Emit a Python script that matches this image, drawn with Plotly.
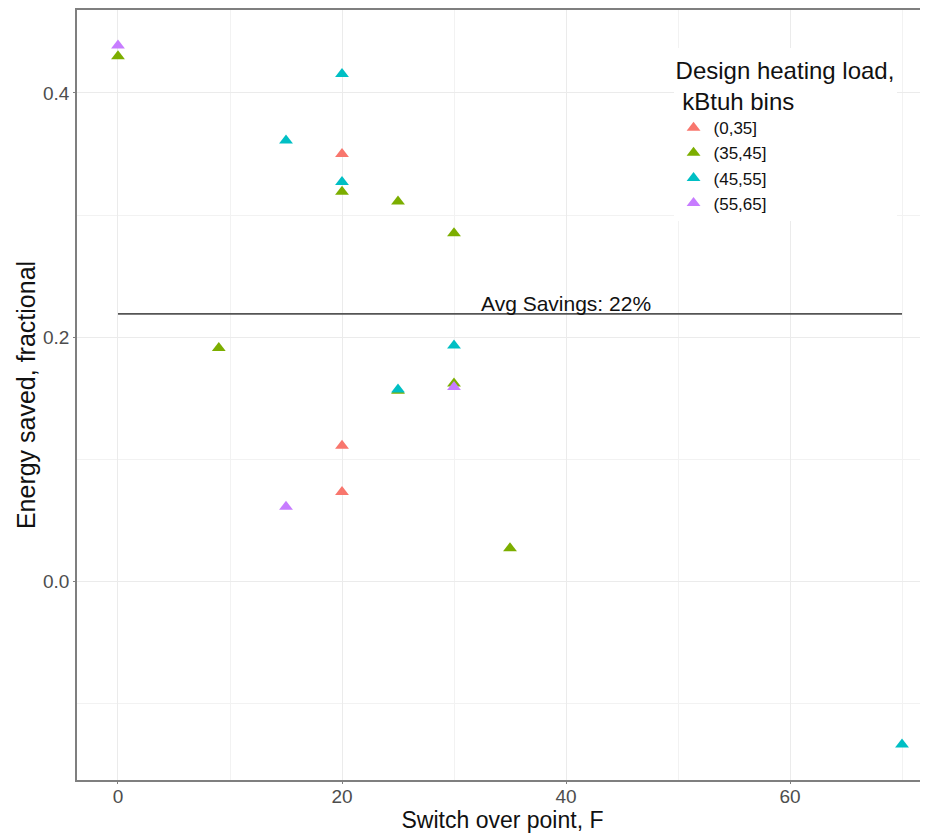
import plotly.graph_objects as go

bins = ["(0,35]", "(35,45]", "(45,55]", "(55,65]"]
colors = ["#F8766D", "#7CAE00", "#00BFC4", "#C77CFF"]

x_0_35 = [20, 20, 20]
y_0_35 = [0.350, 0.111, 0.073]

x_35_45 = [0, 20, 25, 30, 9, 25, 30, 35]
y_35_45 = [0.430, 0.319, 0.311, 0.285, 0.191, 0.156, 0.162, 0.027]

x_45_55 = [20, 15, 20, 30, 25, 70]
y_45_55 = [0.4155, 0.361, 0.327, 0.193, 0.157, -0.134]

x_55_65 = [0, 30, 15]
y_55_65 = [0.439, 0.159, 0.061]

avg_savings = 0.219
avg_x = [0, 70]
avg_label = "Avg Savings: 22%"

xs = [x_0_35, x_35_45, x_45_55, x_55_65]
ys = [y_0_35, y_35_45, y_45_55, y_55_65]

fig = go.Figure()

fig.add_trace(go.Scatter(x=avg_x, y=[avg_savings, avg_savings], mode="lines",
                         line=dict(color="#555555", width=1.6), showlegend=False,
                         hoverinfo="skip"))

for name, c, xv, yv in zip(bins, colors, xs, ys):
    fig.add_trace(go.Scatter(x=xv, y=yv, mode="markers", name=name,
                             marker=dict(symbol="triangle-up", size=12, color=c,
                                         line=dict(width=0))))

fig.add_annotation(x=40, y=avg_savings, text=avg_label, showarrow=False,
                   yanchor="bottom", xanchor="center", yshift=-3,
                   font=dict(family="Liberation Sans", size=21, color="#111111"))

axis_common = dict(
    showline=True, linecolor="#7f7f7f", linewidth=1.5,
    gridcolor="#EBEBEB", gridwidth=1.2, zeroline=False,
    ticks="outside", ticklen=2, tickcolor="#7f7f7f",
    tickfont=dict(family="Liberation Sans", size=19, color="#4D4D4D"),
    minor=dict(showgrid=True, gridcolor="#F2F2F2", gridwidth=1),
    automargin=True,
)

# the page body has an 8px margin; compensate so the plot area sits at 77..928 x 10..780
fig.update_layout(
    width=920, height=825,
    margin=dict(l=69, r=0, t=2, b=53),
    plot_bgcolor="white", paper_bgcolor="white",
    font=dict(family="Liberation Sans"),
    xaxis=dict(range=[-3.66, 72.32], tickvals=[0, 20, 40, 60], mirror=True,
               minor_tickvals=[10, 30, 50, 70], ticklabelstandoff=-4,
               title=dict(text="Switch over point, F", standoff=10,
                          font=dict(size=23, color="#111111")),
               **axis_common),
    yaxis=dict(range=[-0.163, 0.468], tickvals=[0.0, 0.2, 0.4],
               ticktext=["0.0", "0.2", "0.4"],
               minor_tickvals=[-0.1, 0.1, 0.3],
               title=dict(text="Energy saved, fractional", standoff=0,
                          font=dict(size=25, color="#111111")),
               **axis_common),
    legend=dict(x=0.701, y=0.951, xanchor="left", yanchor="top",
                bgcolor="white",
                title=dict(text="Design heating load,<br> kBtuh bins",
                           font=dict(size=24, color="#111111")),
                font=dict(size=17, color="#111111"),
                itemsizing="constant", tracegroupgap=0),
)

fig.write_html("out.html")
